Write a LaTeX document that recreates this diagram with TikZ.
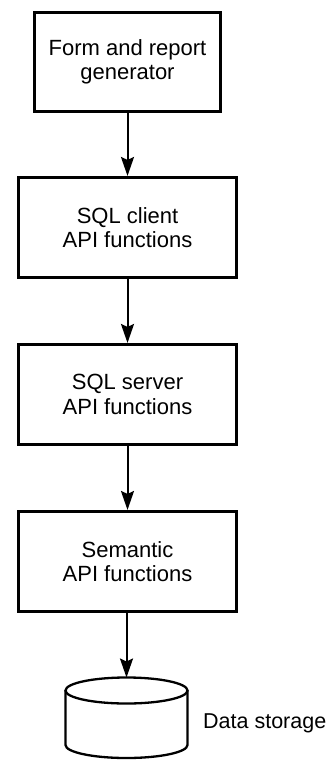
\documentclass[tikz,border=0pt]{standalone}
\usepackage{fontspec}
\setmainfont{Liberation Sans}
\usetikzlibrary{arrows.meta}
\begin{document}
\begin{tikzpicture}[x=1pt,y=-1pt,
  boxstyle/.style={draw, line width=2.6pt, align=center, inner sep=0pt,
    font=\fontsize{22}{24.5}\selectfont},
  arrowstyle/.style={line width=2pt, -{Stealth[length=19pt,width=13pt,inset=3pt]}},
  cylstyle/.style={line width=2.3pt},
  labelstyle/.style={font=\fontsize{21.5}{24}\selectfont, inner sep=0pt, anchor=west}]
\useasboundingbox (0,0) rectangle (330,760);
\node[boxstyle, minimum width=186.5pt, minimum height=99.5pt] (form) at (127.5,62) {Form and report\\generator};
\node[boxstyle, minimum width=218.5pt, minimum height=100.5pt] (client) at (127.5,227.5) {SQL client\\API functions};
\node[boxstyle, minimum width=218.5pt, minimum height=100.5pt] (server) at (127.5,394.5) {SQL server\\API functions};
\node[boxstyle, minimum width=218.5pt, minimum height=100.5pt] (semantic) at (127.5,561.5) {Semantic\\API functions};
% cylinder
\draw[cylstyle] (126.5,690.5) ellipse [x radius=61pt, y radius=13pt];
\draw[cylstyle] (65.5,690.5) -- (65.5,745) arc[start angle=180, end angle=360, x radius=61pt, y radius=13pt] -- (187.5,690.5);
\coordinate (storage) at (126.5,677.5);
\node[labelstyle] (label) at (203,723) {Data storage};
\draw[arrowstyle] (form.south) -- (client.north);
\draw[arrowstyle] (client.south) -- (server.north);
\draw[arrowstyle] (server.south) -- (semantic.north);
\draw[arrowstyle] (semantic.south -| storage) -- (storage);
\end{tikzpicture}
\end{document}
